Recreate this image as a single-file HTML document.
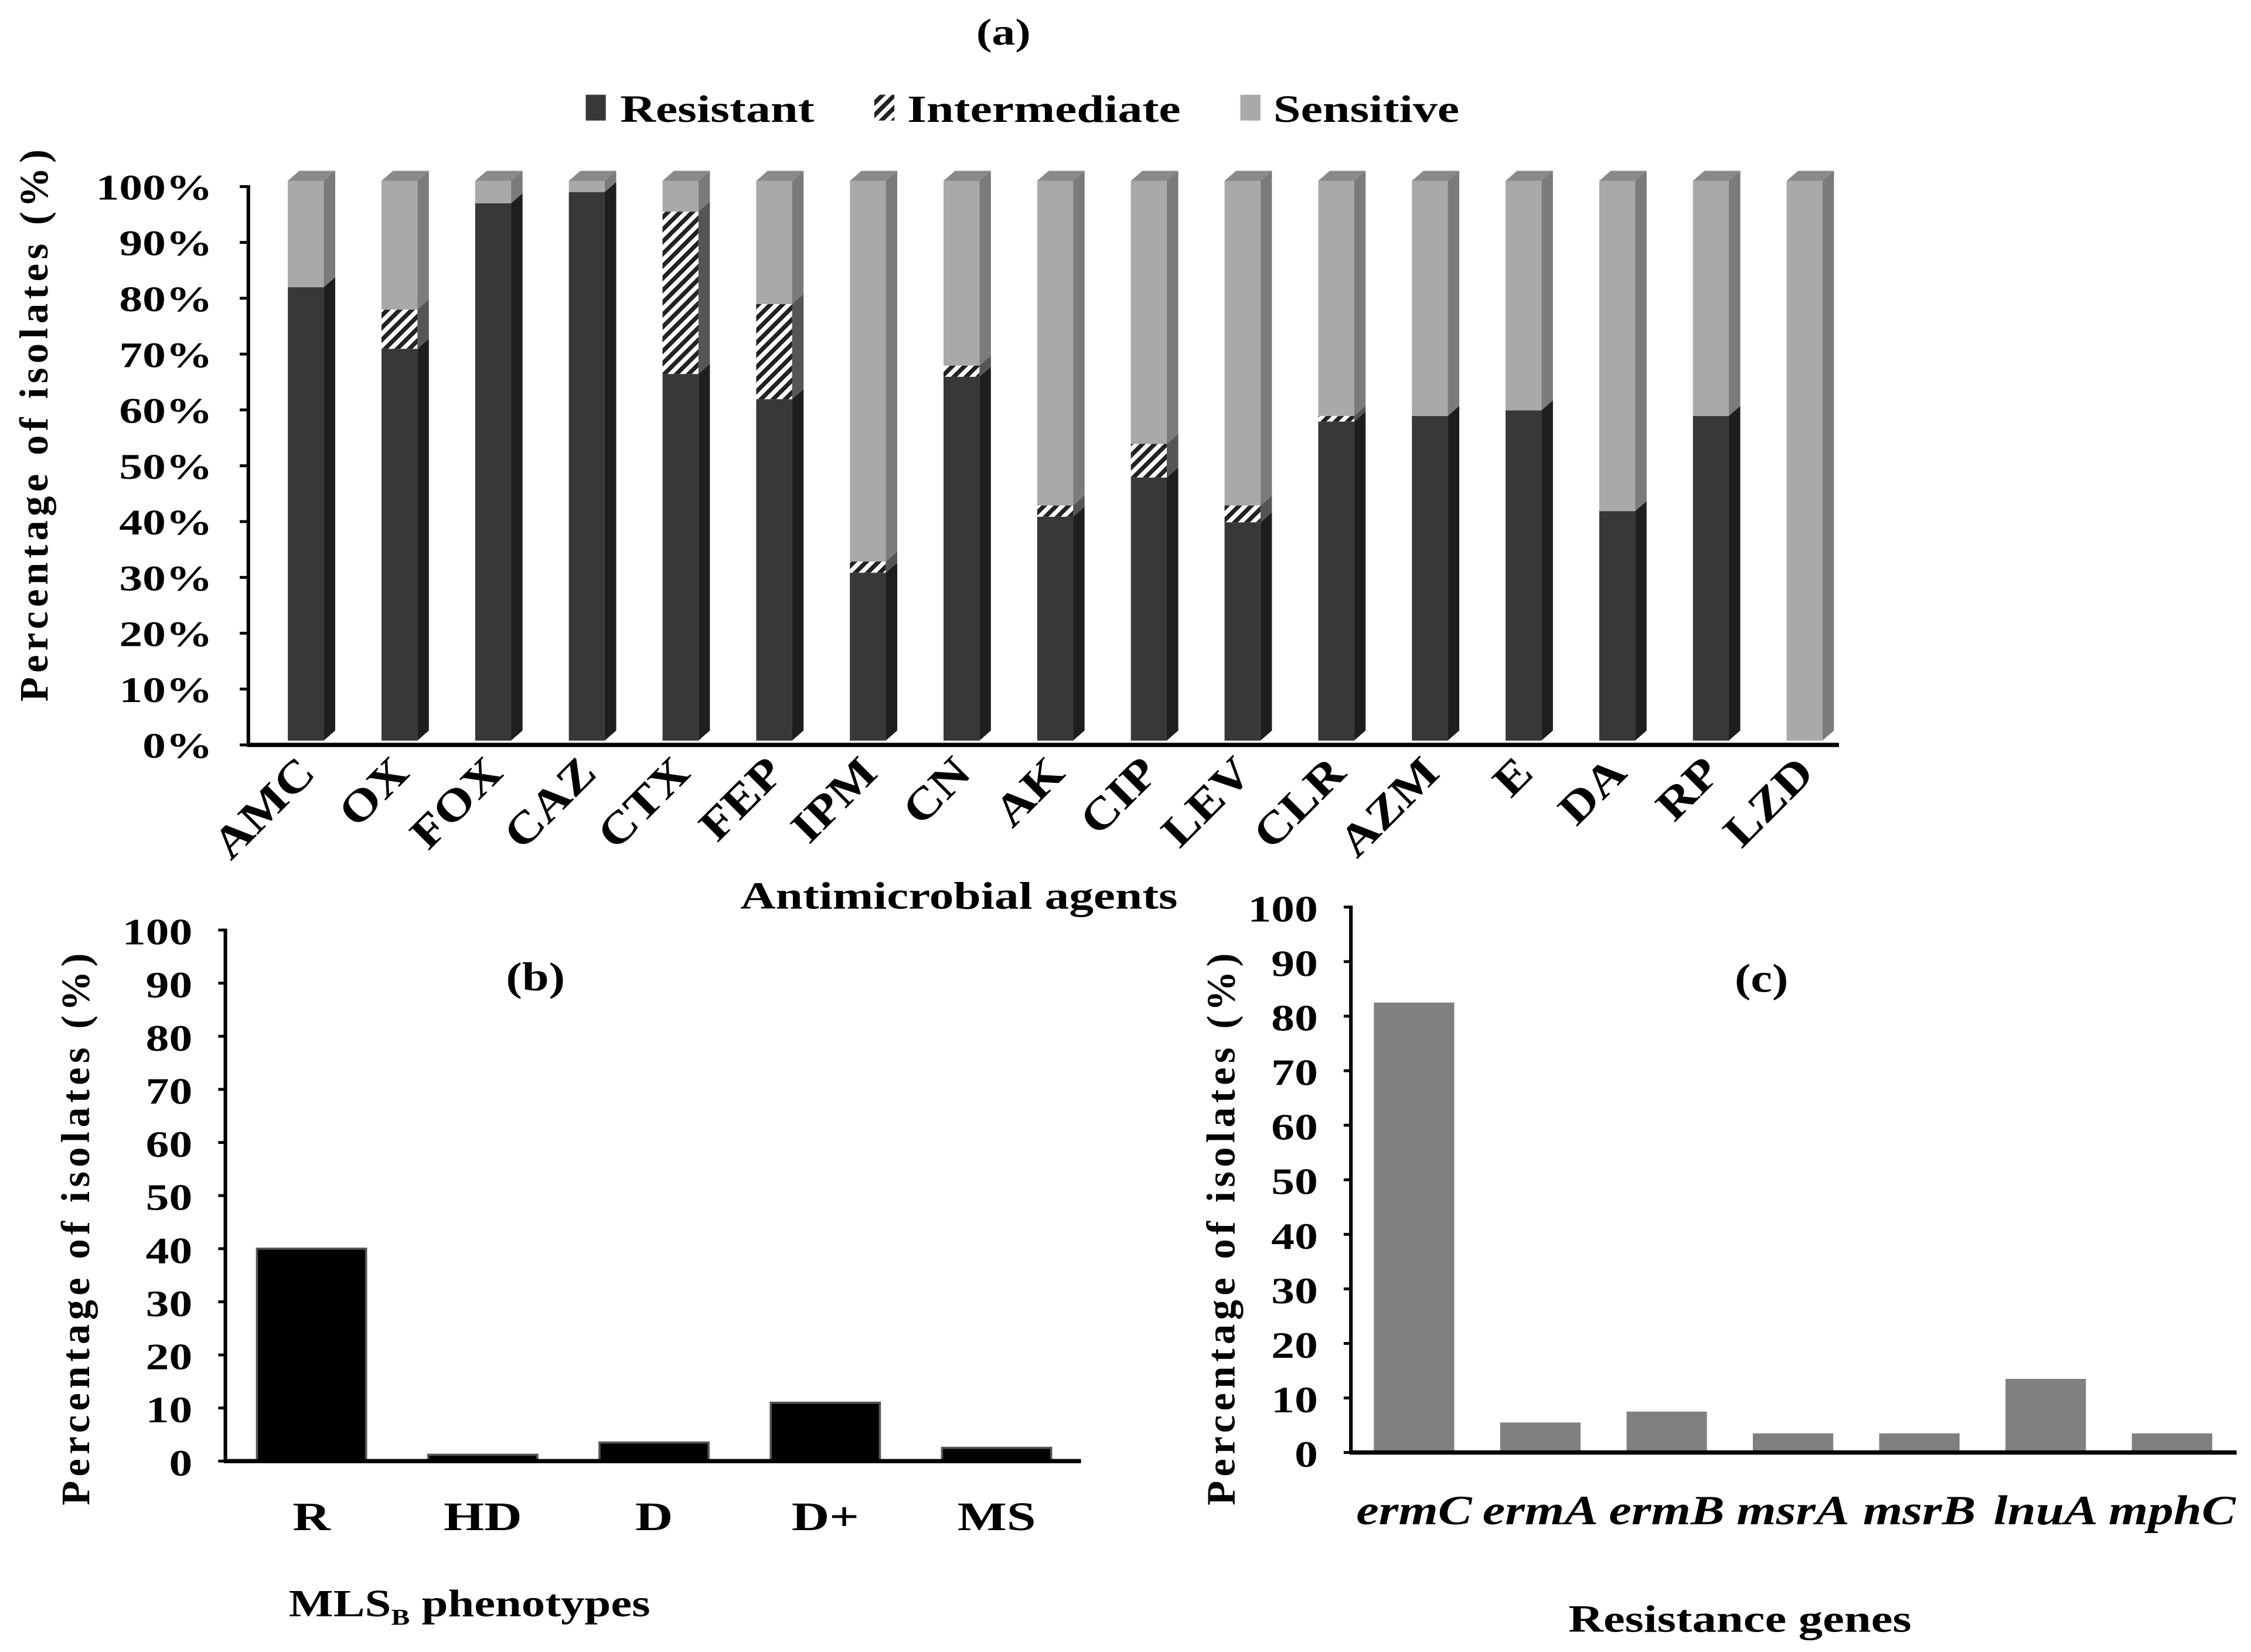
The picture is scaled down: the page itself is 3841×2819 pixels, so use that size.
<!DOCTYPE html>
<html><head><meta charset="utf-8"><style>
html,body{margin:0;padding:0;background:#fff;}
svg{display:block;}
text{font-family:"Liberation Serif",serif;font-weight:bold;fill:#000;}
</style></head><body>
<svg id="fig" width="3841" height="2819" viewBox="0 0 1568 1151" preserveAspectRatio="none" xmlns="http://www.w3.org/2000/svg">
<defs>
<pattern id="hatch" patternUnits="userSpaceOnUse" width="6" height="6" patternTransform="rotate(45)">
<rect width="6" height="6" fill="#fff"/><rect width="3" height="6" fill="#222"/>
</pattern>
</defs>
<g id="ga"></g>
<g id="gb"></g>
<g id="gc"></g>
</svg>
<script>
const catsA=["AMC","OX","FOX","CAZ","CTX","FEP","IPM","CN","AK","CIP","LEV","CLR","AZM","E","DA","RP","LZD"];
const resA=[81,70,96,98,65.5,61,30,65,40,47,39,57,58,59,41,58,0];
const intA=[0,7,0,0,29,17,2,2,2,6,3,1,0,0,0,0,0];
const senA=[19,23,4,2,5.5,22,68,33,58,47,58,42,42,41,59,42,100];
const ticksA=["0%","10%","20%","30%","40%","50%","60%","70%","80%","90%","100%"];
const catsB=["R","HD","D","D+","MS"];
const valsB=[40,1.2,3.5,11,2.5];
const ticksB=[0,10,20,30,40,50,60,70,80,90,100];
const catsC=["ermC","ermA","ermB","msrA","msrB","lnuA","mphC"];
const valsC=[82.5,5.5,7.5,3.5,3.5,13.5,3.5];
const ticksC=[0,10,20,30,40,50,60,70,80,90,100];

const NS="http://www.w3.org/2000/svg";
function mk(parent,tag,attrs,txt){const e=document.createElementNS(NS,tag);for(const k in attrs)e.setAttribute(k,attrs[k]);if(txt!==undefined)e.textContent=txt;parent.appendChild(e);return e;}
function st(parent,x,y,sx,attrs,txt,extra){const a=Object.assign({x:0,y:0,transform:`translate(${x},${y}) ${extra||''} scale(${sx},1)`},attrs);return mk(parent,'text',a,txt);}

// ---- Chart A ----
const ga=document.getElementById('ga');
const yTickA=i=>519-i*38.9;
const yBarA=v=>516-v/100*390;
const xA=i=>213+i*65.25;
const bw=25,dx=8,dy=7;
let t=st(ga,699,31,1.25,{'text-anchor':'middle','font-size':26},'(a)');

const legA=[["Resistant","#383838",408,432],["Intermediate","url(#hatch)",609,632],["Sensitive","#aaa8a8",864,887]];
legA.forEach(l=>{
 const r=mk(ga,'rect',{x:l[2],y:66,width:14,height:18,fill:l[1]});
 
 const tx=st(ga,l[3],85,1.27,{'font-size':27},l[0]);
 
});
ticksA.forEach((s,i)=>{
 const tx=st(ga,148,yTickA(i)+9,1.3,{'text-anchor':'end','font-size':25},s);
 
 const l=mk(ga,'line',{x1:167,x2:173,y1:yTickA(i),y2:yTickA(i),stroke:'#000','stroke-width':2});
 
});
catsA.forEach((c,i)=>{
 const x0=xA(i)-bw/2;
 const segs=[[0,resA[i],'#383838','#1e1e1e','resistant'],[resA[i],resA[i]+intA[i],'url(#hatch)','#555','intermediate'],[resA[i]+intA[i],resA[i]+intA[i]+senA[i],'#aaa8a8','#7b7b7b','sensitive']];
 segs.forEach(s=>{
  if(s[1]-s[0]<=0)return;
  const y1=yBarA(s[1]),y0=yBarA(s[0]);
  const side=mk(ga,'polygon',{points:`${x0+bw},${y1} ${x0+bw+dx},${y1-dy} ${x0+bw+dx},${y0-dy} ${x0+bw},${y0}`,fill:s[3]});
  
  const r=mk(ga,'rect',{x:x0,y:y1,width:bw,height:y0-y1,fill:s[2]});
  
 });
 const tot=resA[i]+intA[i]+senA[i];const yt=yBarA(tot);
 const top=mk(ga,'polygon',{points:`${x0},${yt} ${x0+dx},${yt-dy} ${x0+bw+dx},${yt-dy} ${x0+bw},${yt}`,fill:'#8a8a8a'});
 
 const tx=mk(ga,'text',{x:0,y:0,'text-anchor':'end','font-size':31,transform:`translate(${xA(i)+8},${540}) rotate(-45) scale(1.15,1)`},c);
 
});
let ax=mk(ga,'line',{x1:173,x2:173,y1:129,y2:520,stroke:'#000','stroke-width':2.5});

ax=mk(ga,'line',{x1:172,x2:1281,y1:519,y2:519,stroke:'#000','stroke-width':3});

t=st(ga,668,633,1.26,{'text-anchor':'middle','font-size':27},'Antimicrobial agents');

t=mk(ga,'text',{x:0,y:0,'text-anchor':'middle','font-size':28,'letter-spacing':3,transform:'translate(33,295) rotate(-90)'},'Percentage  of isolates (%)');


// ---- Chart B ----
const gb=document.getElementById('gb');
const yB=v=>1018-v*3.7;
const xB=i=>217+i*119.3;
ticksB.forEach(v=>{
 const tx=st(gb,134,yB(v)+10,1.25,{'text-anchor':'end','font-size':26},String(v));
 
 const l=mk(gb,'line',{x1:152,x2:157,y1:yB(v),y2:yB(v),stroke:'#000','stroke-width':2});
 
});
catsB.forEach((c,i)=>{
 const r=mk(gb,'rect',{x:xB(i)-38,y:yB(valsB[i]),width:76,height:1018-yB(valsB[i]),fill:'#000',stroke:'#555','stroke-width':1.5});
 
 const tx=st(gb,xB(i),1066,1.3,{'text-anchor':'middle','font-size':28},c);
 
});
ax=mk(gb,'line',{x1:157,x2:157,y1:647,y2:1019,stroke:'#000','stroke-width':2.5});

ax=mk(gb,'line',{x1:156,x2:753,y1:1018,y2:1018,stroke:'#000','stroke-width':3});

t=st(gb,373,690,1.2,{'text-anchor':'middle','font-size':28},'(b)');

t=st(gb,327,1126,1.22,{'text-anchor':'middle','font-size':27});

t.innerHTML='MLS<tspan font-size="16" dy="6">B</tspan><tspan dy="-6"> phenotypes</tspan>';
t=mk(gb,'text',{x:0,y:0,'text-anchor':'middle','font-size':28,'letter-spacing':3,transform:'translate(62,855) rotate(-90)'},'Percentage of isolates (%)');


// ---- Chart C ----
const gc=document.getElementById('gc');
const yC=v=>1012-v*3.8;
const xC=i=>985+i*88;
ticksC.forEach(v=>{
 const tx=st(gc,918,yC(v)+10,1.25,{'text-anchor':'end','font-size':26},String(v));
 
 const l=mk(gc,'line',{x1:936,x2:941,y1:yC(v),y2:yC(v),stroke:'#000','stroke-width':2});
 
});
catsC.forEach((c,i)=>{
 const r=mk(gc,'rect',{x:xC(i)-28,y:yC(valsC[i]),width:56,height:1012-yC(valsC[i]),fill:'#808080'});
 
 const tx=st(gc,xC(i),1062,1.22,{'text-anchor':'middle','font-size':29,'font-style':'italic','font-weight':'normal'},c);
 
});
ax=mk(gc,'line',{x1:941,x2:941,y1:631,y2:1013,stroke:'#000','stroke-width':2.5});

ax=mk(gc,'line',{x1:940,x2:1558,y1:1012,y2:1012,stroke:'#000','stroke-width':3});

t=st(gc,1227,691,1.2,{'text-anchor':'middle','font-size':28},'(c)');

t=st(gc,1212,1137,1.25,{'text-anchor':'middle','font-size':27},'Resistance genes');

t=mk(gc,'text',{x:0,y:0,'text-anchor':'middle','font-size':28,'letter-spacing':3,transform:'translate(860,855) rotate(-90)'},'Percentage of isolates (%)');

</script>
</body></html>
